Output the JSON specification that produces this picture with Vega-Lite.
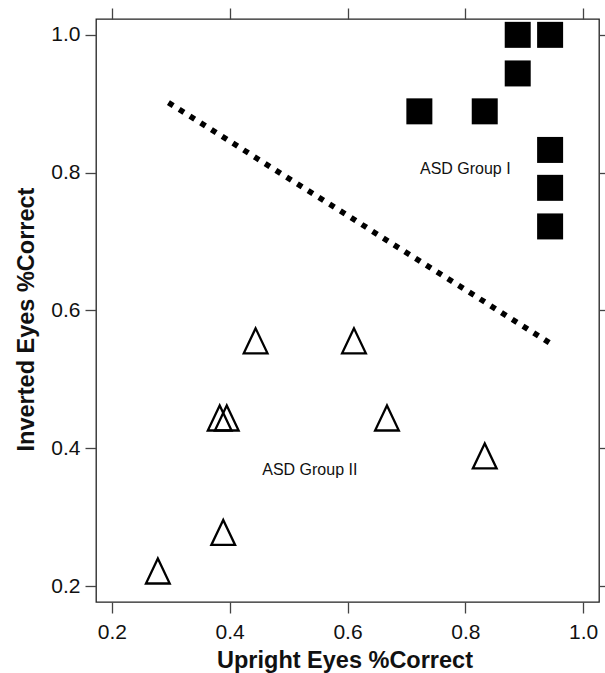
{
  "$schema": "https://vega.github.io/schema/vega-lite/v6.json",
  "width": 503,
  "height": 583,
  "autosize": {"type": "none"},
  "padding": {"left": 96, "top": 19, "right": 6, "bottom": 71},
  "background": "white",
  "config": {
    "font": "Liberation Sans",
    "view": {"stroke": "#222", "strokeWidth": 1.3},
    "axis": {
      "grid": false,
      "domain": false,
      "tickColor": "#444",
      "tickSize": 11,
      "tickWidth": 1.3,
      "labelFont": "Liberation Sans",
      "labelFontSize": 21,
      "labelColor": "#111",
      "titleFont": "Liberation Sans",
      "titleFontWeight": "bold",
      "titleFontSize": 23.5,
      "titleColor": "#111"
    }
  },
  "datasets": {
    "pts": [
      {"upright": 0.889, "inverted": 1.0, "group": "I"},
      {"upright": 0.944, "inverted": 1.0, "group": "I"},
      {"upright": 0.889, "inverted": 0.944, "group": "I"},
      {"upright": 0.722, "inverted": 0.889, "group": "I"},
      {"upright": 0.833, "inverted": 0.889, "group": "I"},
      {"upright": 0.944, "inverted": 0.833, "group": "I"},
      {"upright": 0.944, "inverted": 0.778, "group": "I"},
      {"upright": 0.944, "inverted": 0.722, "group": "I"},
      {"upright": 0.444, "inverted": 0.556, "group": "II"},
      {"upright": 0.611, "inverted": 0.556, "group": "II"},
      {"upright": 0.383, "inverted": 0.444, "group": "II"},
      {"upright": 0.395, "inverted": 0.444, "group": "II"},
      {"upright": 0.667, "inverted": 0.444, "group": "II"},
      {"upright": 0.833, "inverted": 0.389, "group": "II"},
      {"upright": 0.389, "inverted": 0.278, "group": "II"},
      {"upright": 0.278, "inverted": 0.222, "group": "II"}
    ],
    "boundary": [
      {"upright": 0.296, "inverted": 0.9017},
      {"upright": 0.9424, "inverted": 0.5534}
    ],
    "labels": [
      {"upright": 0.8, "inverted": 0.798, "text": "ASD Group I"},
      {"upright": 0.536, "inverted": 0.362, "text": "ASD Group II"}
    ]
  },
  "layer": [
    {
      "data": {"name": "boundary"},
      "mark": {"type": "line", "color": "black", "strokeWidth": 5.6, "strokeDash": [5.6, 7.1], "strokeCap": "butt"},
      "encoding": {
        "x": {
          "field": "upright", "type": "quantitative",
          "scale": {"domain": [0.173, 1.027], "nice": false, "zero": false},
          "axis": {
            "orient": "bottom", "values": [0.2, 0.4, 0.6, 0.8, 1.0], "format": ".1f",
            "labelPadding": 8, "title": "Upright Eyes %Correct",
            "titleX": 248.5, "titleY": 65, "titleBaseline": "alphabetic", "titleAlign": "center"
          }
        },
        "y": {
          "field": "inverted", "type": "quantitative",
          "scale": {"domain": [0.177, 1.023], "nice": false, "zero": false},
          "axis": {
            "orient": "left", "values": [0.2, 0.4, 0.6, 0.8, 1.0], "format": ".1f",
            "labelPadding": 5, "title": "Inverted Eyes %Correct",
            "titleX": -63, "titleY": 300, "titleAngle": -90, "titleBaseline": "alphabetic", "titleAlign": "center"
          }
        }
      }
    },
    {
      "data": {"name": "pts"},
      "transform": [{"filter": "datum.group == 'I'"}],
      "mark": {"type": "point", "shape": "square", "filled": true, "size": 676, "color": "black", "opacity": 1},
      "encoding": {
        "x": {"field": "upright", "type": "quantitative",
          "axis": {"orient": "top", "values": [0.2, 0.4, 0.6, 0.8, 1.0], "labels": false, "title": null}},
        "y": {"field": "inverted", "type": "quantitative",
          "axis": {"orient": "right", "values": [0.2, 0.4, 0.6, 0.8, 1.0], "labels": false, "title": null}}
      }
    },
    {
      "data": {"name": "pts"},
      "transform": [{"filter": "datum.group == 'II'"}],
      "mark": {"type": "point", "shape": "M0,-1L-0.95,1L0.95,1Z", "filled": false, "size": 625, "stroke": "black", "strokeWidth": 2.3, "opacity": 1, "fill": null},
      "encoding": {
        "x": {"field": "upright", "type": "quantitative", "axis": null},
        "y": {"field": "inverted", "type": "quantitative", "axis": null}
      }
    },
    {
      "data": {"name": "labels"},
      "mark": {"type": "text", "font": "Liberation Sans", "fontSize": 16, "color": "#111", "align": "center", "baseline": "alphabetic"},
      "encoding": {
        "x": {"field": "upright", "type": "quantitative", "axis": null},
        "y": {"field": "inverted", "type": "quantitative", "axis": null},
        "text": {"field": "text"}
      }
    }
  ]
}
